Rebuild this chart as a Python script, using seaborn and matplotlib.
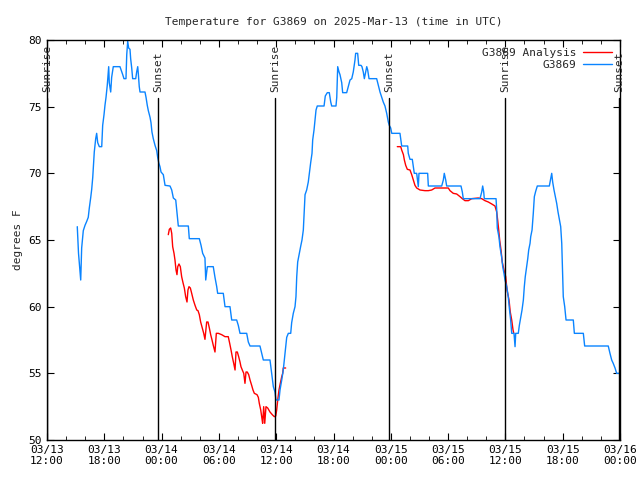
import matplotlib
matplotlib.use("Agg")
import matplotlib.pyplot as plt
import matplotlib.dates as mdates
import pandas as pd
import seaborn as sns

# hours after 2025-03-13 12:00 UTC
obs_hours = [3.17, 3.30, 3.53, 3.63, 3.80, 3.98, 4.16, 4.32, 4.43, 4.58, 4.68, 4.79, 4.85, 4.95,
             5.10, 5.20, 5.31, 5.48, 5.73, 5.83, 5.97, 6.07, 6.18, 6.31, 6.46, 6.52, 6.67, 6.77,
             6.94, 7.64, 7.93, 8.06, 8.27, 8.35, 8.45, 8.55, 8.69, 8.76, 8.87, 8.97, 9.29, 9.39,
             9.50, 9.56, 9.66, 9.74, 10.26, 10.37, 10.50, 10.61, 10.79, 10.89, 10.99, 11.13,
             11.31, 11.49, 11.59, 11.70, 11.83, 11.94, 12.18, 12.36, 12.88, 13.06, 13.23, 13.48,
             13.58, 13.75, 14.80, 14.90, 15.95, 16.13, 16.30, 16.54, 16.62, 16.79, 17.41, 17.59,
             17.77, 17.87, 18.46, 18.64, 19.16, 19.34, 19.86, 20.03, 20.21, 20.91, 21.08, 21.26,
             22.30, 22.48, 22.65, 23.35, 23.53, 23.70, 23.87, 23.98, 24.29, 24.40, 24.58, 24.74,
             24.92, 25.10, 25.27, 25.52, 25.62, 25.79, 25.97, 26.07, 26.15, 26.25, 26.42, 26.57,
             26.70, 26.84, 26.94, 27.02, 27.19, 27.36, 27.47, 27.61, 27.75, 27.82, 27.96, 28.06,
             28.17, 28.30, 29.01, 29.14, 29.35, 29.56, 29.71, 29.81, 30.26, 30.34, 30.44, 30.58,
             30.68, 30.86, 30.96, 31.38, 31.55, 31.73, 31.91, 32.07, 32.25, 32.32, 32.53, 32.64,
             32.88, 32.98, 33.12, 33.23, 33.37, 33.48, 33.58, 33.72, 34.52, 34.69, 34.87, 35.05,
             35.21, 35.39, 35.57, 35.74, 35.84, 35.99, 36.10, 36.96, 37.14, 37.77, 37.83, 38.01,
             38.25, 38.36, 38.46, 38.71, 38.88, 38.95, 39.86, 39.93, 41.33, 41.50, 41.60, 41.75,
             41.85, 43.35, 43.49, 43.59, 45.34, 45.52, 45.62, 45.73, 45.79, 47.02, 47.09, 47.15,
             47.33, 47.43, 47.61, 47.72, 47.85, 47.96, 48.14, 48.30, 48.41, 48.55, 48.66, 48.90,
             49.01, 49.08, 49.35, 49.46, 49.60, 49.74, 49.88, 49.98, 50.08, 50.23, 50.34, 50.44,
             50.58, 50.65, 50.79, 50.92, 51.03, 51.17, 51.34, 52.60, 52.74, 52.85, 52.95, 53.09,
             53.23, 53.37, 53.51, 53.64, 53.79, 53.90, 54.00, 54.06, 54.21, 54.35, 55.11, 55.22,
             56.16, 56.30, 58.77, 58.95, 59.13, 59.29, 59.48, 59.65, 60.0]
obs_temp = [66.0, 64.0, 62.0, 64.4, 65.7, 66.1, 66.4, 66.7, 67.4, 68.2, 68.8, 69.7, 70.4, 71.6,
            72.6, 73.0, 72.3, 72.0, 72.0, 73.6, 74.4, 75.1, 75.7, 76.6, 78.0, 76.8, 76.1, 77.2,
            78.0, 78.0, 77.4, 77.1, 77.1, 78.9, 79.9, 79.4, 79.3, 78.6, 77.9, 77.1, 77.1, 77.6,
            78.0, 77.5, 76.5, 76.1, 76.1, 75.7, 75.1, 74.7, 74.2, 73.8, 73.1, 72.6,
            72.1, 71.7, 71.2, 70.8, 70.5, 70.1, 69.9, 69.1, 69.05, 68.75, 68.15, 68.0,
            67.25, 66.05, 66.05, 65.1, 65.1, 64.6, 64.0, 63.65, 62.0, 63.0, 63.0, 62.2,
            61.5, 61.0, 61.0, 60.0, 60.0, 59.0, 59.0, 58.6, 58.0, 58.0, 57.35, 57.05,
            57.05, 56.5, 56.0, 56.0, 55.0, 54.0, 53.6, 53.0, 53.0, 53.75, 54.5, 55.25,
            56.5, 57.7, 58.0, 58.0, 58.8, 59.5, 60.0, 60.75, 62.25, 63.35, 64.0, 64.55,
            65.0, 65.75, 67.25, 68.4, 68.75, 69.35, 70.0, 70.8, 71.5, 72.5, 73.25, 74.0,
            74.75, 75.05, 75.05, 75.8, 76.05, 76.05, 75.35, 75.05, 75.05, 75.7, 78.0, 77.6,
            77.4, 76.8, 76.05, 76.05, 76.5, 77.0, 77.1, 77.6, 78.5, 79.0, 79.0, 78.1,
            78.1, 78.0, 77.6, 77.1, 77.6, 78.0, 77.75, 77.1, 77.1, 76.6, 76.1, 75.7,
            75.35, 75.05, 74.5, 73.85, 73.6, 73.4, 73.0, 73.0, 72.05, 72.05, 71.5, 71.05,
            71.05, 70.5, 70.0, 70.0, 69.0, 70.0, 70.0, 69.05, 69.05, 69.5, 70.0, 69.5,
            69.05, 69.05, 68.6, 68.1, 68.1, 68.6, 69.05, 68.6, 68.1, 68.1, 67.25, 65.9,
            65.2, 64.5, 63.7, 63.0, 62.5, 62.0, 61.5, 60.75, 59.9, 59.0, 58.0, 58.0,
            57.0, 58.0, 58.0, 58.6, 59.2, 59.75, 60.5, 61.5, 62.25, 63.0, 63.6, 64.25,
            64.75, 65.25, 65.75, 67.0, 68.25, 68.65, 69.05, 69.05, 69.6, 70.0, 69.35, 68.75,
            68.25, 67.75, 67.1, 66.6, 66.0, 64.75, 62.25, 60.75, 60.0, 59.0, 59.0, 58.0,
            58.0, 57.05, 57.05, 56.5, 56.0, 55.75, 55.4, 55.0, 55.0]

ana1_hours = [12.70, 12.81, 12.95, 13.06, 13.16, 13.30, 13.40, 13.51, 13.61, 13.69, 13.82, 13.96,
              14.10, 14.24, 14.38, 14.52, 14.66, 14.76, 14.87, 15.01, 15.15, 15.32, 15.50, 15.68,
              15.81, 15.95, 16.09, 16.26, 16.41, 16.54, 16.72, 16.86, 17.00, 17.14, 17.28, 17.41,
              17.59, 17.73, 17.94, 18.29, 18.64, 18.98, 19.13, 19.27, 19.40, 19.55, 19.69, 19.79,
              19.93, 20.07, 20.21, 20.31, 20.45, 20.60, 20.73, 20.84, 20.97, 21.12, 21.26, 21.43,
              21.57, 21.71, 21.99, 22.13, 22.23, 22.38, 22.48, 22.58, 22.69, 22.80, 22.93, 23.11,
              23.35, 23.59, 23.80, 23.95, 24.05, 24.16, 24.29, 24.43, 24.58, 24.68, 24.74, 24.99]
ana1_temp = [65.4, 65.8, 65.9, 65.5, 64.5, 64.0, 63.5, 62.75, 62.4, 63.0, 63.2, 63.0,
             62.25, 61.8, 61.4, 60.75, 60.35, 61.25, 61.5, 61.4, 61.0, 60.5, 60.1, 59.75,
             59.7, 59.4, 58.85, 58.4, 58.0, 57.55, 58.85, 58.85, 58.4, 57.9, 57.5, 57.1,
             56.6, 58.0, 58.0, 57.9, 57.75, 57.75, 57.25, 56.75, 56.25, 55.75, 55.25, 56.6,
             56.6, 56.25, 55.85, 55.5, 55.25, 55.0, 54.25, 55.1, 55.1, 54.9, 54.5, 54.1,
             53.75, 53.5, 53.4, 53.2, 52.75, 52.25, 51.75, 51.25, 52.5, 51.25, 52.5, 52.4,
             52.1, 51.9, 51.75, 51.8, 52.25, 53.0, 53.75, 54.25, 54.75, 55.0, 55.4, 55.4]

ana2_hours = [36.68, 37.04, 37.14, 37.32, 37.42, 37.56, 37.73, 38.01, 38.19, 38.36, 38.53, 38.71,
              39.06, 39.58, 39.93, 40.28, 40.63, 42.02, 42.20, 42.54, 42.90, 43.25, 43.49, 43.77,
              44.12, 44.47, 45.16, 45.52, 45.86, 46.21, 46.57, 46.91, 47.09, 47.19, 47.30, 47.40,
              47.54, 47.67, 47.85, 48.03, 48.17, 48.38, 48.51, 48.66, 48.80, 48.88]
ana2_temp = [72.0, 72.0, 71.75, 71.4, 71.0, 70.6, 70.3, 70.25, 69.9, 69.5, 69.1, 68.9,
             68.75, 68.7, 68.7, 68.75, 68.9, 68.9, 68.7, 68.5, 68.45, 68.25, 68.1, 67.95,
             67.95, 68.1, 68.15, 68.1, 67.95, 67.85, 67.7, 67.55, 67.1, 66.5, 65.75, 65.0,
             64.25, 63.35, 62.75, 62.25, 61.25, 60.5, 59.6, 59.0, 58.25, 58.0]

sun_hours = [0.0, 11.62, 23.87, 35.81, 47.96, 59.9]
sun_labels = ["Sunrise", "Sunset", "Sunrise", "Sunset", "Sunrise", "Sunset"]

t0 = pd.Timestamp("2025-03-13 12:00")


def to_time(h):
    return t0 + pd.to_timedelta(h, unit="h")


obs = pd.DataFrame({"time": to_time(obs_hours), "temp": obs_temp})
ana1 = pd.DataFrame({"time": to_time(ana1_hours), "temp": ana1_temp})
ana2 = pd.DataFrame({"time": to_time(ana2_hours), "temp": ana2_temp})

sns.set_style("ticks")
mono = "DejaVu Sans Mono"
plt.rcParams["font.family"] = [mono]
plt.rcParams["font.size"] = 8

fig = plt.figure(figsize=(6.4, 4.8), dpi=100)
ax = fig.add_axes([47 / 640, 40 / 480, 573 / 640, 400 / 480])

red = "#ff0000"
blue = "#0a84ff"
sns.lineplot(data=ana1, x="time", y="temp", ax=ax, color=red, lw=1.0,
             estimator=None, sort=False, label="G3869 Analysis")
sns.lineplot(data=ana2, x="time", y="temp", ax=ax, color=red, lw=1.0,
             estimator=None, sort=False)
sns.lineplot(data=obs, x="time", y="temp", ax=ax, color=blue, lw=1.0,
             estimator=None, sort=False, label="G3869")

for h, lab in zip(sun_hours, sun_labels):
    t = to_time(h)
    ax.axvline(t, ymax=0.855, color="black", lw=1)
    ax.text(t, 0.87, lab, transform=ax.get_xaxis_transform(), rotation=90,
            ha="center", va="bottom", fontsize=8, family=mono)

ax.set_xlim(t0, t0 + pd.Timedelta(hours=60))
ax.set_ylim(50, 80)
ax.set_yticks(range(50, 81, 5))
ax.xaxis.set_major_locator(mdates.HourLocator(byhour=[0, 6, 12, 18]))
ax.xaxis.set_minor_locator(mdates.HourLocator(byhour=range(0, 24, 2)))
ax.xaxis.set_major_formatter(mdates.DateFormatter("%m/%d\n%H:%M"))
ax.tick_params(axis="both", which="both", direction="in", top=True, right=True,
               labelsize=8, colors="black")
ax.tick_params(which="major", length=5)
ax.tick_params(which="minor", length=3)
ax.set_xlabel("")
ax.set_ylabel("degrees F", fontsize=8, family=mono)
ax.set_title("Temperature for G3869 on 2025-Mar-13 (time in UTC)", fontsize=8,
             family=mono, pad=11)
for s in ax.spines.values():
    s.set_color("black")
    s.set_linewidth(1)

leg = ax.legend(loc="upper right", frameon=False, markerfirst=False, fontsize=8,
                handlelength=2.6, handletextpad=0.6, borderaxespad=0.3,
                labelspacing=0.2)
for txt in leg.get_texts():
    txt.set_family(mono)

fig.savefig("out.png", dpi=100)
